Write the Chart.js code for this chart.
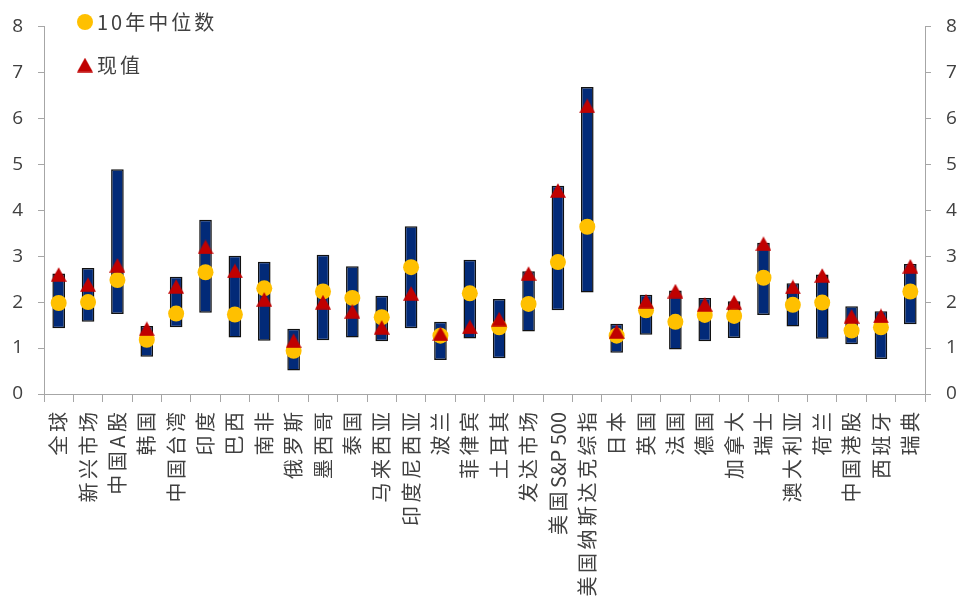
<!DOCTYPE html>
<html>
<head>
<meta charset="utf-8">
<script src="https://cdn.jsdelivr.net/npm/chart.js@4/dist/chart.umd.min.js"></script>
<style>
  html, body { margin: 0; padding: 0; background: #ffffff; }
  #wrap { width: 962px; height: 607px; }
</style>
</head>
<body>
<div id="wrap"><canvas id="c" width="962" height="607"></canvas></div>
<script>
// 市盈率区间：历史最低/最高、10年中位数与现值
const categories = ['全球', '新兴市场', '中国A股', '韩国', '中国台湾', '印度', '巴西', '南非', '俄罗斯', '墨西哥',
  '泰国', '马来西亚', '印度尼西亚', '波兰', '菲律宾', '土耳其', '发达市场', '美国S&P 500', '美国纳斯达克综指', '日本',
  '英国', '法国', '德国', '加拿大', '瑞士', '澳大利亚', '荷兰', '中国港股', '西班牙', '瑞典'];

const rangeLow = [1.43, 1.57, 1.74, 0.81, 1.45, 1.77, 1.23, 1.16, 0.51, 1.17,
  1.23, 1.15, 1.43, 0.74, 1.21, 0.78, 1.36, 1.82, 2.21, 0.90,
  1.29, 0.97, 1.15, 1.22, 1.72, 1.47, 1.20, 1.08, 0.76, 1.52];

const rangeHigh = [2.62, 2.74, 4.89, 1.48, 2.55, 3.79, 3.01, 2.88, 1.42, 3.03,
  2.78, 2.14, 3.65, 1.57, 2.92, 2.07, 2.67, 4.53, 6.68, 1.53,
  2.16, 2.25, 2.09, 2.02, 3.29, 2.41, 2.60, 1.91, 1.80, 2.83];

const median10y = [1.98, 2.00, 2.48, 1.18, 1.75, 2.65, 1.73, 2.30, 0.94, 2.23,
  2.09, 1.67, 2.76, 1.27, 2.19, 1.45, 1.96, 2.87, 3.64, 1.27,
  1.82, 1.57, 1.72, 1.70, 2.53, 1.94, 1.99, 1.38, 1.45, 2.23];

const current = [2.60, 2.38, 2.80, 1.42, 2.34, 3.20, 2.68, 2.06, 1.16, 2.00,
  1.80, 1.45, 2.19, 1.31, 1.46, 1.63, 2.62, 4.43, 6.27, 1.36,
  2.02, 2.24, 1.95, 2.00, 3.27, 2.33, 2.58, 1.69, 1.70, 2.78];

const yTicks = [0, 1, 2, 3, 4, 5, 6, 7, 8];
const seriesNames = ['10年中位数', '现值'];

const NAVY = '#022a78';
const GOLD = '#ffc000';
const RED = '#c00000';
const AXIS = '#a6a6a6';
const TEXT = '#404040';

// Triangle marker as an image so it is centred on its value
function makeTriangle(w, h, color) {
  const cv = document.createElement('canvas');
  cv.width = w; cv.height = h;
  const g = cv.getContext('2d');
  g.fillStyle = color;
  g.beginPath();
  g.moveTo(w / 2, 0.3);
  g.lineTo(w, h - 0.3);
  g.lineTo(0, h - 0.3);
  g.closePath();
  g.fill();
  return cv;
}
const triangle = makeTriangle(16, 15, RED);

// Legend drawn in the upper-left corner of the plot
const cornerLegend = {
  id: 'cornerLegend',
  afterDraw(chart) {
    const ctx = chart.ctx;
    const x0 = chart.chartArea.left + 41;
    ctx.save();
    ctx.fillStyle = GOLD;
    ctx.beginPath();
    ctx.arc(x0, 22, 8, 0, Math.PI * 2);
    ctx.fill();
    ctx.drawImage(triangle, x0 - 8, 65 - 7.5);
    ctx.fillStyle = TEXT;
    ctx.font = '20px "Noto Sans CJK SC", "Noto Sans", sans-serif';
    ctx.letterSpacing = '3px';
    ctx.textBaseline = 'middle';
    ctx.textAlign = 'left';
    ctx.fillText(seriesNames[0], x0 + 12, 22);
    ctx.fillText(seriesNames[1], x0 + 12, 65);
    ctx.restore();
  }
};

// Category labels: extra gap around CJK characters, Latin runs kept tight
const CJK_GAP = 3.5;
const isCJK = c => /[\u3000-\u9fff\uff00-\uffef]/.test(c);
function spacedFill(ctx, realFill, text, x, y) {
  const chars = Array.from(String(text));
  const widths = chars.map(c => ctx.measureText(c).width);
  const gaps = chars.map((c, i) =>
    i < chars.length - 1 && (isCJK(c) || isCJK(chars[i + 1])) ? CJK_GAP : 0);
  const total = widths.reduce((a, b) => a + b, 0) + gaps.reduce((a, b) => a + b, 0);
  const align = ctx.textAlign;
  let cx = (align === 'right' || align === 'end') ? x - total
    : (align === 'center') ? x - total / 2 : x;
  ctx.textAlign = 'left';
  chars.forEach((c, i) => {
    realFill.call(ctx, c, cx, y);
    cx += widths[i] + gaps[i];
  });
  ctx.textAlign = align;
}
const spacedLabels = {
  id: 'spacedLabels',
  afterUpdate(chart) {
    const s = chart.scales.x;
    if (s && !s.__spaced) {
      const orig = s.drawLabels.bind(s);
      s.drawLabels = function (area) {
        const ctx = this.ctx;
        const realFill = CanvasRenderingContext2D.prototype.fillText;
        ctx.fillText = function (t, x, y) { spacedFill(ctx, realFill, t, x, y); };
        try { orig(area); } finally { delete ctx.fillText; }
      };
      s.__spaced = true;
    }
  }
};

const yTickOpts = {
  font: { family: '"Open Sans", "Liberation Sans", sans-serif', size: 19 },
  color: TEXT,
  stepSize: 1,
  autoSkip: false
};

new Chart(document.getElementById('c'), {
  type: 'bar',
  data: {
    labels: categories,
    datasets: [
      {
        type: 'line',
        label: seriesNames[1],
        data: current,
        showLine: false,
        pointStyle: triangle,
        pointRadius: 8,
        pointHoverRadius: 8,
        order: 1
      },
      {
        type: 'line',
        label: seriesNames[0],
        data: median10y,
        showLine: false,
        pointStyle: 'circle',
        pointRadius: 8,
        pointHoverRadius: 8,
        pointBackgroundColor: GOLD,
        pointBorderWidth: 0,
        order: 2
      },
      {
        type: 'bar',
        label: '区间',
        data: rangeLow.map((lo, i) => [lo, rangeHigh[i]]),
        backgroundColor: NAVY,
        borderColor: '#111111',
        borderWidth: 1.5,
        borderSkipped: false,
        barPercentage: 0.43,
        categoryPercentage: 1.0,
        order: 3
      }
    ]
  },
  options: {
    responsive: false,
    animation: false,
    layout: { padding: { top: 18, bottom: 0, left: 0, right: 0 } },
    plugins: {
      legend: { display: false },
      tooltip: { enabled: false },
      title: { display: false }
    },
    scales: {
      x: {
        offset: true,
        grid: {
          display: true,
          offset: true,
          drawOnChartArea: false,
          drawTicks: true,
          tickLength: 8,
          color: AXIS,
          lineWidth: 1
        },
        border: { display: true, color: AXIS, width: 1 },
        ticks: {
          autoSkip: false,
          maxRotation: 90,
          minRotation: 90,
          padding: 10,
          color: TEXT,
          font: { family: '"Noto Sans CJK SC", sans-serif', size: 20 }
        },
        afterFit(scale) { scale.height = 213; }
      },
      y: {
        position: 'left',
        min: 0,
        max: 8,
        afterBuildTicks(scale) { scale.ticks = yTicks.map(v => ({ value: v })); },
        grid: { display: true, drawOnChartArea: false, drawTicks: true, tickLength: 6, color: AXIS },
        border: { display: true, color: AXIS, width: 1 },
        ticks: Object.assign({ padding: 15 }, yTickOpts),
        afterFit(scale) { scale.width = 44; }
      },
      y2: {
        position: 'right',
        min: 0,
        max: 8,
        afterBuildTicks(scale) { scale.ticks = yTicks.map(v => ({ value: v })); },
        grid: { display: true, drawOnChartArea: false, drawTicks: true, tickLength: 6, color: AXIS },
        border: { display: true, color: AXIS, width: 1 },
        ticks: Object.assign({ padding: 15 }, yTickOpts),
        afterFit(scale) { scale.width = 37; }
      }
    }
  },
  plugins: [spacedLabels, cornerLegend]
});
</script>
</body>
</html>
